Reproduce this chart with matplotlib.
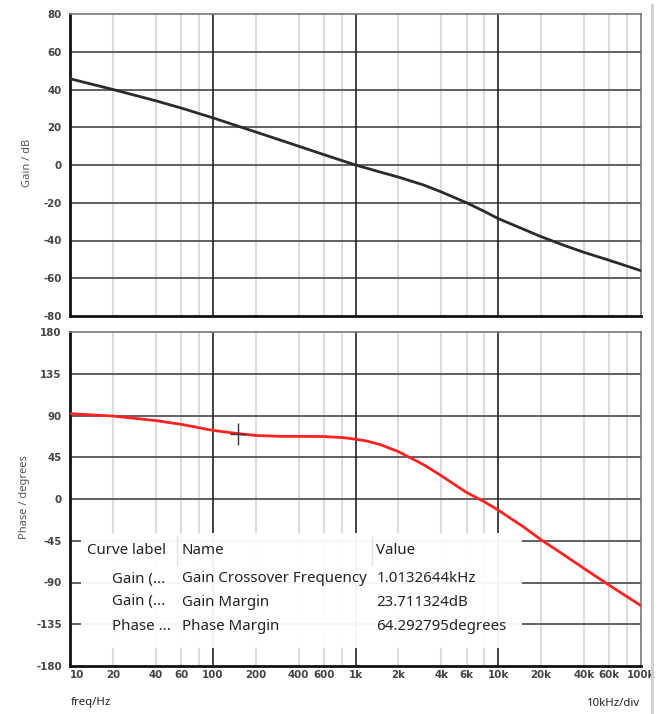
import numpy as np
import matplotlib
matplotlib.use("Agg")
import matplotlib.pyplot as plt
from matplotlib.patches import Rectangle
from matplotlib.lines import Line2D

plt.rcParams['font.family'] = ['Noto Sans', 'DejaVu Sans']

# frequencies (Hz)
freq = [10, 20, 40, 60, 100, 150, 200, 300, 400, 600, 800, 1000, 1200, 1500, 2000,
        3000, 4000, 6000, 8000, 10000, 15000, 20000, 30000, 40000, 60000, 100000]
# gain in dB
gain = [45.7, 40.0, 34.0, 30.2, 25.0, 20.6, 17.5, 13.1, 9.95, 5.5, 2.4, 0.0, -1.7, -3.8, -6.4,
        -10.6, -14.3, -20.0, -24.6, -28.4, -34.0, -38.0, -43.0, -46.3, -50.5, -56.0]
# phase in degrees
phase = [92.0, 89.4, 84.5, 80.5, 74.0, 70.5, 68.5, 67.5, 67.5, 67.3, 66.3, 64.5, 62.5, 58.5, 51.0,
         37.0, 25.0, 7.0, -3.0, -12.0, -30.0, -44.0, -62.0, -75.0, -93.0, -115.0]

# cursor position on phase curve
cursor_f = 150
cursor_p = 70

xticks = [10, 20, 40, 60, 100, 200, 400, 600, 1000, 2000, 4000, 6000, 10000, 20000, 40000, 60000, 100000]
xticklabels = ['10', '20', '40', '60', '100', '200', '400', '600', '1k', '2k', '4k', '6k',
               '10k', '20k', '40k', '60k', '100k']
minor_grid = [20, 40, 60, 80, 200, 400, 600, 800, 2000, 4000, 6000, 8000, 20000, 40000, 60000, 80000]
major_grid = [100, 1000, 10000]
gain_ticks = list(range(-80, 81, 20))
phase_ticks = list(range(-180, 181, 45))

# measurement table
tbl_header = ['Curve label', 'Name', 'Value']
tbl_curve = ['Gain (...', 'Gain (...', 'Phase ...']
tbl_name = ['Gain Crossover Frequency', 'Gain Margin', 'Phase Margin']
tbl_value = ['1.0132644kHz', '23.711324dB', '64.292795degrees']

W, H = 662, 714
fig = plt.figure(figsize=(W / 100, H / 100), dpi=100)
fig.patch.set_facecolor('white')


def px_axes(x0, y0, x1, y1):
    return fig.add_axes([x0 / W, 1 - y1 / H, (x1 - x0) / W, (y1 - y0) / H])


ax1 = px_axes(70, 14, 641, 316)
ax2 = px_axes(70, 332, 641, 666)

tick_font = dict(family='DejaVu Sans', weight='bold', size=7.4)


def style(ax, yticks):
    ax.set_xscale('log')
    ax.set_xlim(10, 100000)
    ax.set_ylim(yticks[0], yticks[-1])
    ax.set_yticks(yticks)
    ax.set_yticklabels([str(t) for t in yticks], fontdict=tick_font)
    ax.minorticks_off()
    for f in minor_grid:
        ax.axvline(f, color='#dcdcdc', lw=1.5, zorder=1)
    for t in yticks[1:-1]:
        ax.axhline(t, color='#555555', lw=1.3, zorder=1.5)
    for f in major_grid:
        ax.axvline(f, color='#222222', lw=1.2, zorder=1.6)
    for side in ['top', 'right']:
        ax.spines[side].set_color('#777777')
        ax.spines[side].set_linewidth(1.2)
    for side in ['left', 'bottom']:
        ax.spines[side].set_color('#111111')
        ax.spines[side].set_linewidth(2)
    ax.tick_params(axis='both', length=0, labelcolor='#444444', pad=6)


style(ax1, gain_ticks)
ax1.set_xticks(xticks)
ax1.set_xticklabels([])
ax1.plot(freq, gain, color='#2b2b2b', lw=2, zorder=4)

style(ax2, phase_ticks)
ax2.set_xticks(xticks)
ax2.set_xticklabels(xticklabels, fontdict=tick_font)
ax2.get_xticklabels()[0].set_horizontalalignment('left')
ax2.tick_params(axis='x', pad=3)
ax2.plot(freq, phase, color='#ff2222', lw=2, zorder=4)
ax2.plot([cursor_f], [cursor_p], marker='|', ms=16, color='#333333', mew=1, zorder=5)
ax2.plot([cursor_f], [cursor_p], marker='_', ms=11, color='#333333', mew=1, zorder=5)


# table overlay (pixel positions -> axes fraction)
def ax2x(px):
    return (px - 70) / 571


def ax2y(py):
    return (666 - py) / 334


ax2.add_patch(Rectangle((ax2x(81), ax2y(648)), ax2x(522) - ax2x(81), ax2y(533) - ax2y(648),
                        transform=ax2.transAxes, facecolor='white', edgecolor='none',
                        alpha=0.95, zorder=3))
for sx in [176.7, 372]:
    ax2.add_line(Line2D([ax2x(sx), ax2x(sx)], [ax2y(565), ax2y(536)], transform=ax2.transAxes,
                        color='#e2e2e2', lw=1, zorder=3.5))

fs = 10.8
ax2.text(ax2x(87), ax2y(551), tbl_header[0], transform=ax2.transAxes, fontsize=fs,
         color='#222222', va='center', ha='left', zorder=5)
ax2.text(ax2x(181.5), ax2y(551), tbl_header[1], transform=ax2.transAxes, fontsize=fs,
         color='#222222', va='center', ha='left', zorder=5)
ax2.text(ax2x(376.5), ax2y(551), tbl_header[2], transform=ax2.transAxes, fontsize=fs,
         color='#222222', va='center', ha='left', zorder=5)
for i, ry in enumerate([579, 602, 626]):
    ax2.text(ax2x(111.5), ax2y(ry), tbl_curve[i], transform=ax2.transAxes, fontsize=fs,
             color='#222222', va='center', ha='left', zorder=5)
    ax2.text(ax2x(181.5), ax2y(ry), tbl_name[i], transform=ax2.transAxes, fontsize=fs,
             color='#222222', va='center', ha='left', zorder=5)
    ax2.text(ax2x(376.5), ax2y(ry), tbl_value[i], transform=ax2.transAxes, fontsize=fs,
             color='#222222', va='center', ha='left', zorder=5)

# axis titles
fig.text(28 / W, 1 - 163 / H, 'Gain / dB', rotation=90, fontsize=8, color='#555555',
         ha='center', va='center')
fig.text(25 / W, 1 - 497 / H, 'Phase / degrees', rotation=90, fontsize=8, color='#555555',
         ha='center', va='center')
fig.text(71 / W, 1 - 703 / H, 'freq/Hz', fontsize=8.2, color='#222222', ha='left', va='center')
fig.text(640 / W, 1 - 703 / H, '10kHz/div', fontsize=8.2, color='#222222', ha='right', va='center')

# window border on the right
fig.add_artist(Line2D([652 / W, 652 / W], [0, 1 - 5 / H], transform=fig.transFigure,
                      color='#cfcfcf', lw=2))

fig.savefig('out.png', dpi=100, facecolor='white')
